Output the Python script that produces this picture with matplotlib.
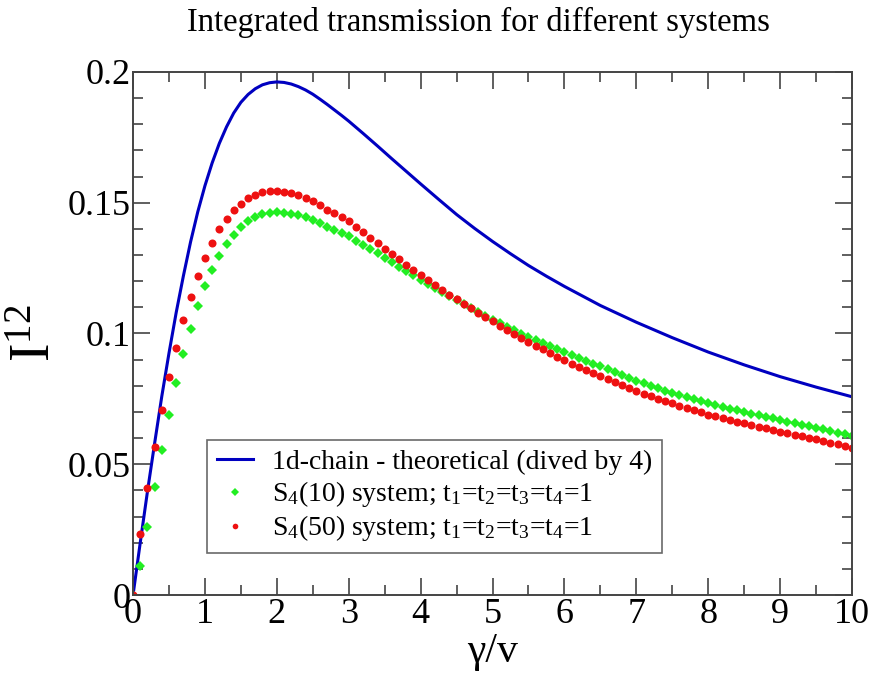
import matplotlib
matplotlib.use("Agg")
import matplotlib.pyplot as plt
from matplotlib.ticker import MultipleLocator

plt.rcParams['font.family'] = ['Liberation Serif', 'DejaVu Serif']
plt.rcParams['mathtext.fontset'] = 'custom'
plt.rcParams['mathtext.rm'] = 'Liberation Serif'
plt.rcParams['mathtext.it'] = 'Liberation Serif:italic'

# x positions of the simulated points (every 0.1 from 0 to 10)
x_pts = [i / 10 for i in range(101)]

# S4(50) system, red circles
red_vals = [
    0.0000, 0.0233, 0.0409, 0.0565, 0.0706, 0.0832, 0.0946, 0.1051, 0.1141, 0.1219,
    0.1289, 0.1347, 0.1398, 0.1438, 0.1472, 0.1497, 0.1517, 0.1531, 0.1540, 0.1545,
    0.1546, 0.1542, 0.1537, 0.1529, 0.1518, 0.1505, 0.1490, 0.1474, 0.1459, 0.1444,
    0.1429, 0.1409, 0.1388, 0.1367, 0.1346, 0.1325, 0.1304, 0.1283, 0.1263, 0.1242,
    0.1222, 0.1203, 0.1185, 0.1167, 0.1149, 0.1132, 0.1114, 0.1097, 0.1079, 0.1062,
    0.1046, 0.1030, 0.1014, 0.0998, 0.0983, 0.0968, 0.0953, 0.0939, 0.0925, 0.0911,
    0.0897, 0.0885, 0.0873, 0.0861, 0.0849, 0.0838, 0.0826, 0.0814, 0.0803, 0.0791,
    0.0780, 0.0770, 0.0761, 0.0751, 0.0742, 0.0733, 0.0724, 0.0716, 0.0707, 0.0699,
    0.0690, 0.0683, 0.0676, 0.0669, 0.0662, 0.0656, 0.0649, 0.0643, 0.0637, 0.0631,
    0.0625, 0.0619, 0.0613, 0.0607, 0.0601, 0.0595, 0.0589, 0.0582, 0.0576, 0.0570,
    0.0564,
]

# S4(10) system, green diamonds
green_vals = [
    0.0000, 0.0112, 0.0261, 0.0412, 0.0554, 0.0688, 0.0809, 0.0921, 0.1018, 0.1105,
    0.1181, 0.1244, 0.1298, 0.1342, 0.1378, 0.1407, 0.1429, 0.1445, 0.1456, 0.1462,
    0.1464, 0.1462, 0.1458, 0.1452, 0.1444, 0.1434, 0.1422, 0.1409, 0.1397, 0.1384,
    0.1371, 0.1355, 0.1339, 0.1322, 0.1306, 0.1290, 0.1273, 0.1256, 0.1239, 0.1223,
    0.1206, 0.1190, 0.1174, 0.1159, 0.1143, 0.1128, 0.1113, 0.1098, 0.1083, 0.1068,
    0.1053, 0.1039, 0.1026, 0.1012, 0.0999, 0.0987, 0.0975, 0.0963, 0.0951, 0.0940,
    0.0928, 0.0917, 0.0906, 0.0895, 0.0885, 0.0874, 0.0863, 0.0852, 0.0840, 0.0829,
    0.0818, 0.0809, 0.0800, 0.0791, 0.0782, 0.0773, 0.0765, 0.0757, 0.0749, 0.0741,
    0.0733, 0.0726, 0.0720, 0.0713, 0.0706, 0.0699, 0.0693, 0.0687, 0.0681, 0.0675,
    0.0669, 0.0663, 0.0657, 0.0651, 0.0645, 0.0639, 0.0633, 0.0627, 0.0621, 0.0615,
    0.0609,
]

# theoretical 1d chain curve (divided by 4)
x_theory = [0.0, 0.1, 0.2, 0.3, 0.4, 0.5, 0.6, 0.7, 0.8, 0.9, 1.0, 1.1, 1.2, 1.3,
            1.4, 1.5, 1.6, 1.7, 1.8, 1.9, 2.0, 2.1, 2.2, 2.3, 2.4, 2.5, 2.6, 2.7,
            2.8, 2.9, 3.0, 3.2, 3.4, 3.6, 3.8, 4.0, 4.25, 4.5, 4.75, 5.0, 5.25,
            5.5, 5.75, 6.0, 6.5, 7.0, 7.5, 8.0, 8.5, 9.0, 9.5, 10.0]
y_theory = [0.0, 0.0200, 0.0395, 0.0580, 0.0760, 0.0925, 0.1080, 0.1220, 0.1350,
            0.1465, 0.1565, 0.1652, 0.1727, 0.1790, 0.1843, 0.1884, 0.1914, 0.1936,
            0.1951, 0.1959, 0.1962, 0.1960, 0.1954, 0.1944, 0.1931, 0.1915, 0.1896,
            0.1876, 0.1855, 0.1834, 0.1812, 0.1765, 0.1717, 0.1668, 0.1620, 0.1572,
            0.1513, 0.1455, 0.1402, 0.1352, 0.1305, 0.1260, 0.1219, 0.1180, 0.1107,
            0.1043, 0.0984, 0.0929, 0.0880, 0.0835, 0.0795, 0.0758]

labels = ['1d-chain - theoretical (dived by 4)',
          r'S$_4$(10) system; t$_1$=t$_2$=t$_3$=t$_4$=1',
          r'S$_4$(50) system; t$_1$=t$_2$=t$_3$=t$_4$=1']

fig = plt.figure(figsize=(8.73, 6.74), dpi=100)
ax = fig.add_axes([0.1524, 0.1172, 0.8236, 0.776])

ax.plot(x_theory, y_theory, color='#0000c0', linewidth=2.2,
        solid_joinstyle='round', label=labels[0])
ax.plot(x_pts, green_vals, linestyle='none', marker='D', markersize=5.2,
        color='#22ee22', markeredgewidth=0, label=labels[1])
ax.plot(x_pts, red_vals, linestyle='none', marker='o', markersize=5.8,
        color='#ee1111', markeredgewidth=0, label=labels[2])

ax.set_xlim(0, 10)
ax.set_ylim(0, 0.2)
ax.xaxis.set_major_locator(MultipleLocator(1))
ax.xaxis.set_minor_locator(MultipleLocator(0.5))
ax.yaxis.set_major_locator(MultipleLocator(0.05))
ax.yaxis.set_minor_locator(MultipleLocator(0.01))
ax.set_yticks([0, 0.05, 0.1, 0.15, 0.2])
ax.set_yticklabels(['0', '0.05', '0.1', '0.15', '0.2'])
ax.tick_params(which='both', direction='in', top=True, right=True,
               labelsize=26, color='#444444', width=1.2, pad=2)
ax.tick_params(which='major', length=12)
ax.tick_params(which='minor', length=7)
for s in ax.spines.values():
    s.set_color('#444444')
    s.set_linewidth(1.4)

ax.set_xlabel('γ/v', fontsize=30, labelpad=1)
ax.set_ylabel(r'I$^{12}$', fontsize=40, labelpad=4)
fig.suptitle('Integrated transmission for different systems', fontsize=23.5,
             x=0.548, y=0.99)

leg = ax.legend(loc='lower left', bbox_to_anchor=(0.103, 0.080), fontsize=20,
                frameon=True, fancybox=False, edgecolor='#444444',
                handlelength=1.3, handletextpad=0.7, borderpad=0.35,
                labelspacing=0.15, markerscale=0.7, borderaxespad=0)
leg.get_frame().set_linewidth(1.2)

fig.savefig('out.png', dpi=100)
